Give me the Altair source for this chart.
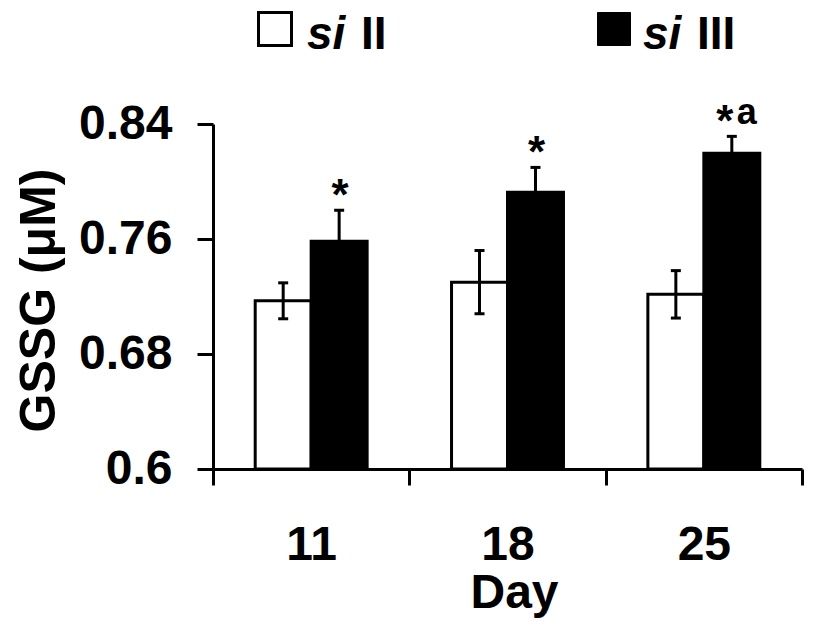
import altair as alt
import pandas as pd

days = ["11", "18", "25"]
series = ["si II", "si III"]
mean_ii = [0.717, 0.730, 0.7215]
err_ii = [0.0125, 0.022, 0.0165]
mean_iii = [0.7585, 0.7925, 0.8196]
err_iii = [0.0215, 0.0173, 0.0118]
stars_iii = ["*", "*", "*"]
letters_iii = ["", "", "a"]
y_ticks = [0.6, 0.68, 0.76, 0.84]

rows = []
for i, d in enumerate(days):
    rows.append(dict(day=d, series=series[0], mean=mean_ii[i], err=err_ii[i], star="", letter=""))
    rows.append(dict(day=d, series=series[1], mean=mean_iii[i], err=err_iii[i],
                     star=stars_iii[i], letter=letters_iii[i]))
df = pd.DataFrame(rows)
df["lo"] = df["mean"] - df["err"]
df["hi"] = df["mean"] + df["err"]

FONT = "Liberation Sans"

x_axis = alt.Axis(
    title="Day", labelAngle=0, labelFont=FONT, labelFontSize=48, labelFontWeight="bold",
    labelColor="black", labelPadding=36, tickSize=16, tickWidth=3, tickColor="black",
    domainWidth=3, domainColor="black", tickBand="extent", grid=False,
    titleFont=FONT, titleFontSize=48, titleFontWeight="bold", titleColor="black",
    titleX=301, titleY=100, titleBaseline="top",
)
y_axis = alt.Axis(
    title="GSSG (μM)", values=y_ticks, format=".2~f", labelFont=FONT, labelFontSize=48,
    labelFontWeight="bold", labelColor="black", labelPadding=25, tickSize=16, tickWidth=3,
    tickColor="black", domainWidth=3, domainColor="black", grid=False,
    titleFont=FONT, titleFontSize=50, titleFontWeight="bold", titleColor="black",
    titleX=-149, titleY=176,
)
x_scale = alt.Scale(paddingInner=0, paddingOuter=0)
xoff_scale = alt.Scale(paddingInner=0, paddingOuter=0.754)
y_scale = alt.Scale(domain=[0.6, 0.84], nice=False, zero=False)

X = alt.X("day:N", sort=days, scale=x_scale, axis=x_axis)
XO = alt.XOffset("series:N", sort=series, scale=xoff_scale)

base = alt.Chart(df)

bars = base.mark_bar(stroke="black", strokeWidth=3).encode(
    x=X, xOffset=XO,
    y=alt.Y("mean:Q", scale=y_scale, axis=y_axis),
    y2=alt.datum(0.6),
    fill=alt.Fill("series:N", scale=alt.Scale(domain=series, range=["white", "black"]), legend=None),
)
rules = base.mark_rule(strokeWidth=3, color="black").encode(
    x=X, xOffset=XO,
    y=alt.Y("lo:Q", scale=y_scale, axis=y_axis),
    y2="hi:Q",
)
cap_hi = base.mark_tick(orient="horizontal", size=10, thickness=3, color="black", opacity=1).encode(
    x=X, xOffset=XO, y=alt.Y("hi:Q", scale=y_scale, axis=y_axis),
)
cap_lo = base.mark_tick(orient="horizontal", size=10, thickness=3, color="black", opacity=1).encode(
    x=X, xOffset=XO, y=alt.Y("lo:Q", scale=y_scale, axis=y_axis),
)

def star_layer(filter_expr, dx):
    return base.transform_filter(filter_expr).mark_text(
        font=FONT, fontSize=44, fontWeight="bold", baseline="alphabetic", align="center",
        dx=dx, dy=0, color="black"
    ).encode(
        x=X, xOffset=XO, y=alt.Y("hi:Q", scale=y_scale, axis=y_axis), text="star:N",
    )

stars_plain = star_layer("datum.star != '' && datum.letter == ''", 1)
stars_shift = star_layer("datum.star != '' && datum.letter != ''", -7)
letters = base.transform_filter("datum.letter != ''").mark_text(
    font=FONT, fontSize=36, fontWeight="bold", baseline="alphabetic", align="left", dx=5, dy=-12,
    color="black"
).encode(
    x=X, xOffset=XO, y=alt.Y("hi:Q", scale=y_scale, axis=y_axis), text="letter:N",
)

leg = alt.Chart(pd.DataFrame({"k": [0]}))
sq1 = leg.mark_square(size=1089, filled=True, fill="white", stroke="black", strokeWidth=3, opacity=1).encode(
    x=alt.value(62), y=alt.value(-95))
sq2 = leg.mark_square(size=1089, filled=True, fill="black", stroke="black", strokeWidth=1, opacity=1).encode(
    x=alt.value(401), y=alt.value(-95))

def ltext(txt, x, italic):
    kw = dict(text=txt, font=FONT, fontSize=46, fontWeight="bold", align="left",
              baseline="alphabetic", color="black")
    if italic:
        kw["fontStyle"] = "italic"
    return leg.mark_text(**kw).encode(x=alt.value(x), y=alt.value(-75))

legend_items = [
    sq1, ltext("si", 94, True), ltext("II", 148, False),
    sq2, ltext("si", 430, True), ltext("III", 484, False),
]

chart = alt.layer(bars, rules, cap_hi, cap_lo, stars_plain, stars_shift, letters, *legend_items).properties(
    width=589, height=345,
    padding={"left": 205, "top": 116, "right": 5, "bottom": 150},
    autosize=alt.AutoSizeParams(type="none"),
    background="white",
).configure_view(stroke=None)

chart.save("out.html", embed_options={"renderer": "svg", "actions": False})
